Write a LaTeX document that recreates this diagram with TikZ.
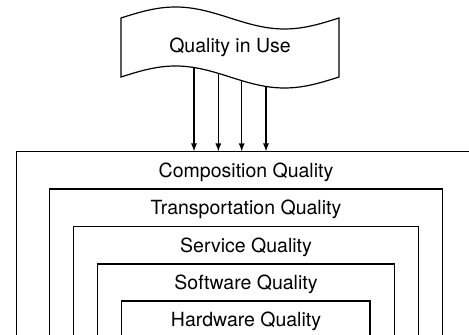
\documentclass[tikz,border=0pt]{standalone}
\usepackage{fontspec}
\setmainfont{TeX Gyre Heros}
\usetikzlibrary{arrows.meta}

\tikzset{
  qline/.style={draw, line width=0.6pt},
  qlabel/.style={font=\fontsize{9.75}{12}\selectfont, inner sep=0pt},
  qarrow/.style={line width=0.6pt, -{Latex[length=4pt, width=3pt]}}
}

\begin{document}
\begin{tikzpicture}[x=0.5pt, y=-0.5pt]
            \useasboundingbox (0,0) rectangle (469,335);
            \clip (0,0) rectangle (469,335);

            % the tape on top
            \draw[qline] plot[domain=0:218, samples=60] ({121+\x},{18-11*sin(\x/218*360)})
              -- plot[domain=218:0, samples=60] ({121+\x},{77-11*sin(\x/218*360)}) -- cycle;
            \node[qlabel] (use) at (230,47) {Quality in Use};

            % nested layers
            \draw[qline] (16.7,151.5) rectangle (475.3,360);
            \draw[qline] (49.3,189) rectangle (442.7,360);
            \draw[qline] (73.3,226.5) rectangle (418.3,360);
            \draw[qline] (97.3,264) rectangle (394.3,360);
            \draw[qline] (121.7,301) rectangle (370,360);
            \coordinate (top) at (246,151.5);

            \node[qlabel] (comp) at (246,172) {Composition Quality};
            \node[qlabel] (trans) at (246,209) {Transportation Quality};
            \node[qlabel] (serv) at (246,247) {Service Quality};
            \node[qlabel] (soft) at (246,284) {Software Quality};
            \node[qlabel] (hard) at (246,321) {Hardware Quality};

            % arrows from the tape down to the layers
            \foreach \i/\x in {1/194,2/218.3,3/241.7,4/266} {
              \coordinate (a\i) at (\x,{77-11*sin((\x-121)/218*360)});
              \draw[qarrow] (a\i) -- (a\i |- top);
            }
        \end{tikzpicture}
\end{document}
